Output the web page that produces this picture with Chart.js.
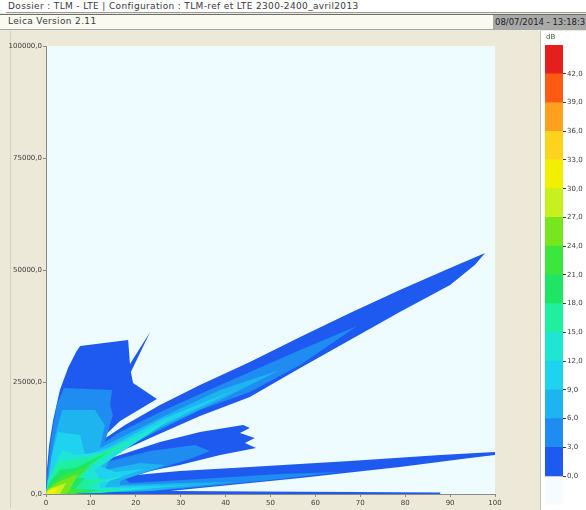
<!DOCTYPE html>
<html>
<head>
<meta charset="utf-8">
<script src="https://cdn.jsdelivr.net/npm/chart.js@4.4.1/dist/chart.umd.min.js"></script>
<style>
  html, body { margin: 0; padding: 0; }
  body { width: 586px; height: 510px; position: relative; overflow: hidden; background: #ece9d8; font-family: "DejaVu Sans", Verdana, sans-serif; }
  #row1 { position: absolute; left: 0; top: 0; width: 586px; height: 13px; background: #ffffff; }
  #row1 .txt { position: absolute; left: 8px; top: 1px; font-size: 9px; letter-spacing: 0.35px; color: #3a3a3a; white-space: nowrap; }
  #row1 .rule { position: absolute; left: 6px; right: 0; top: 12px; height: 1px; background: #9a9a9a; }
  #row2 { position: absolute; left: 0; top: 14px; width: 586px; height: 14px; background: #fbfaf0; border-top: 1px solid #6e6e6e; border-bottom: 1px solid #a8a8a8; }
  #row2 .txt { position: absolute; left: 8px; top: 1px; font-size: 9px; letter-spacing: 0.35px; color: #3a3a3a; white-space: nowrap; }
  #row2 .date { position: absolute; left: 493px; top: 0; width: 93px; height: 14px; background: #a9a9a9; overflow: hidden; }
  #row2 .date span { position: absolute; left: 2px; top: 2px; font-size: 8.5px; color: #1e1e1e; white-space: nowrap; }
  #leftRule { position: absolute; left: 10px; top: 31px; width: 1px; height: 477px; background: #d5d1bd; }
  #scalePanel { position: absolute; left: 540px; top: 31px; width: 46px; height: 479px; background: #ffffff; border-left: 1px solid #c4c1b0; box-sizing: border-box; }
  #unit { position: absolute; left: 546px; top: 33px; font-size: 7px; color: #3d5a3d; }
  #plot { position: absolute; left: 0; top: 30px; }
  #scale { position: absolute; left: 540px; top: 30px; }
</style>
</head>
<body>
<div id="row1"><span class="txt">Dossier : TLM - LTE | Configuration : TLM-ref et LTE 2300-2400_avril2013</span><div class="rule"></div></div>
<div id="row2"><span class="txt">Leica Version 2.11</span><div class="date"><span>08/07/2014 - 13:18:3</span></div></div>
<div id="leftRule"></div>
<div id="scalePanel"></div>
<canvas id="plot" width="540" height="480"></canvas>
<canvas id="scale" width="46" height="480"></canvas>
<div id="unit">dB</div>
<script>
// Field strength contours (dB), distance on x, height on y.
// Each band is the closed outline of the area at or above that level.
const contourLevels = [0, 3, 6, 9, 12, 15, 18, 21, 24, 27, 30];
const levelColors = ['#1e5af0', '#1e8cf0', '#1eb4f0', '#1ed2f0', '#1ee6d2', '#1ef0a0',
                     '#1ee664', '#3ce63c', '#78e61e', '#c8f01e', '#f0f000'];

const band0 = [[0,0],[87.8,0],[87.8,330],[27.6,670],[34.3,1340],[56.6,3570],[78.8,6030],[94.4,8040],
  [100,8700],[100,9370],[87.8,8700],[67.7,7370],[45.4,6030],[29.8,5130],[17.6,4020],
  [29.8,6470],[38.8,8700],[46.8,10270],[44.3,11380],[46.5,12500],[43.2,13620],[45.4,14730],[43.9,15400],
  [34.3,13840],[25.4,11610],[16.5,8700],[10.9,6920],
  [23.2,12500],[34.3,17410],[45.4,21650],[56.6,28120],[67.7,34370],[78.8,40620],[90.0,46650],[95.5,51110],[97.8,53790],
  [90.0,50440],[78.8,45530],[67.7,40400],[56.6,35040],[45.4,29460],[34.3,24330],[25.4,19860],[17.6,15400],[10.9,10940],
  [16.5,16290],[24.7,21200],[19.4,24780],[18.9,27230],[23.2,36160],[18.7,29020],[18.3,34370],
  [7.6,33030],[6.7,31690],[4.9,28120],[3.1,23210],[1.6,16520],[0.7,10940],[0.2,5360]];
const band3 = [[0,0],[23.2,670],[34.3,1560],[52.1,3350],[65.5,4910],[52.1,4460],[34.3,3350],[18.7,2460],
  [17.6,3350],[32.1,7810],[36.5,9600],[33.2,10940],[23.2,9600],[14.3,7370],
  [15.4,9370],[25.4,14280],[34.3,18750],[45.4,22770],[56.6,28790],[69.3,37500],[56.6,32140],[45.4,27230],
  [34.3,22320],[25.4,18300],[16.5,13840],[13.1,11610],
  [14.9,17630],[14.3,19860],[14.7,23210],[4.0,23660],[2.4,19860],[1.1,12050],[0.4,5360]];
const band6 = [[0,0],[23.2,670],[42.1,2680],[29.8,2460],[16.5,2010],[16.5,2900],[26.5,6470],[20.9,6920],
  [13.1,5360],[14.3,8040],[25.4,14730],[38.8,20980],[52.1,27680],[38.8,23210],[25.4,16960],[14.7,11610],
  [12.0,10270],[13.1,15400],[10.9,18750],[3.6,18750],[1.8,12050],[0.7,5360]];
const band9 = [[0,0],[17.6,670],[32.1,2010],[20.9,1790],[13.1,1560],[14.3,3120],[22.0,5580],[15.4,4910],
  [12.0,6250],[25.4,15180],[42.1,23210],[25.4,16520],[14.3,10490],[8.7,8700],[7.6,13170],[2.7,13840],
  [1.3,8700],[0.7,4020]];
const band12 = [[0,0],[14.3,450],[23.2,1340],[12.0,1340],[12.0,2230],[17.6,4020],[12.0,3120],[10.9,5360],
  [28.7,17410],[13.1,9370],[6.5,8700],[3.6,9820],[1.8,5800],[0.4,3120]];
const band15 = [[0,0],[12.0,220],[17.6,890],[8.7,1120],[13.1,3350],[8.0,3120],[9.4,5800],[18.7,12050],
  [9.8,8040],[5.3,7590],[2.7,7140],[0.9,3570]];
const band18 = [[0,0],[8.7,220],[12.0,890],[6.5,1120],[8.7,3570],[5.3,3570],[14.3,9600],[6.5,5800],
  [3.1,5360],[0.9,2680]];
const band21 = [[0,0],[6.5,0],[8.7,890],[4.2,1340],[10.2,6470],[3.6,4020],[0.9,1790]];
const band24 = [[0,0],[4.5,0],[5.3,890],[7.1,4460],[2.7,2680],[0.4,1120]];
const band27 = [[0,0],[3.1,0],[4.5,2460],[1.3,1340],[0.2,670]];
const band30 = [[0,0],[2.0,0],[2.7,1560],[0.4,670]];
const contours = [band0, band3, band6, band9, band12, band15, band18, band21, band24, band27, band30];

const xTicks = [0, 10, 20, 30, 40, 50, 60, 70, 80, 90, 100];
const yTicks = [0, 25000, 50000, 75000, 100000];

// Colour scale, bottom (< 0 dB) to top (> 42 dB)
const scaleTicks = [0, 3, 6, 9, 12, 15, 18, 21, 24, 27, 30, 33, 36, 39, 42];
const scaleColors = ['#f5fbff', '#1e5af0', '#1e8cf0', '#1eb4f0', '#1ed2f0', '#1ee6d2', '#1ef0a0', '#1ee664',
                     '#3ce63c', '#78e61e', '#c8f01e', '#f0f000', '#ffd21e', '#ffa01e', '#ff5a14', '#e61e1e'];

const labelFont = { family: '"DejaVu Sans", Verdana, sans-serif', size: 7 };
const decimal = v => Number(v).toFixed(1).replace('.', ',');

const plotBackground = {
  id: 'plotBackground',
  beforeDraw(chart) {
    const { ctx, chartArea: a } = chart;
    ctx.save();
    ctx.fillStyle = '#eefcff';
    ctx.fillRect(a.left, a.top, a.right - a.left, a.bottom - a.top);
    ctx.restore();
  }
};

// Each outline is closed through the origin; the trailing run along the
// axis keeps the fill's horizontal extent over the whole plot.
const contourSets = contours.map((poly, i) => ({
  label: contourLevels[i] + ' dB',
  data: poly.concat([[0, 0], [100, 0]]).map(([x, y]) => ({ x, y })),
  showLine: true,
  fill: 'shape',
  backgroundColor: levelColors[i],
  borderColor: levelColors[i],
  borderWidth: 0,
  pointRadius: 0,
  pointHoverRadius: 0,
  tension: 0,
  order: contours.length - i
}));

new Chart(document.getElementById('plot'), {
  type: 'scatter',
  data: { datasets: contourSets },
  options: {
    responsive: false,
    animation: false,
    events: [],
    layout: { padding: { left: 0, top: 16, right: 45, bottom: 0 } },
    plugins: { legend: { display: false }, tooltip: { enabled: false } },
    scales: {
      x: {
        type: 'linear', min: 0, max: 100,
        afterFit(s) { s.height = 16; },
        afterBuildTicks(s) { s.ticks = xTicks.map(v => ({ value: v })); },
        ticks: { font: labelFont, color: '#3c3c3c', padding: 2, maxRotation: 0, callback: v => String(v) },
        grid: { drawOnChartArea: false, tickLength: 3, color: '#8a8a8a' },
        border: { color: '#8a8a8a' }
      },
      y: {
        type: 'linear', min: 0, max: 100000,
        afterFit(s) { s.width = 46; },
        afterBuildTicks(s) { s.ticks = yTicks.map(v => ({ value: v })); },
        ticks: { font: labelFont, color: '#3c3c3c', padding: 1, callback: decimal },
        grid: { drawOnChartArea: false, tickLength: 3, color: '#8a8a8a' },
        border: { color: '#8a8a8a' }
      }
    }
  },
  plugins: [plotBackground]
});

new Chart(document.getElementById('scale'), {
  type: 'bar',
  data: {
    labels: ['dB'],
    datasets: scaleColors.map((c, i) => ({
      data: [[-3 + 3 * i, 3 * i]],
      backgroundColor: c,
      borderWidth: 0,
      grouped: false,
      barPercentage: 1,
      categoryPercentage: 1
    }))
  },
  options: {
    responsive: false,
    animation: false,
    events: [],
    layout: { padding: { left: 5, top: 15, right: 0, bottom: 3 } },
    plugins: { legend: { display: false }, tooltip: { enabled: false } },
    scales: {
      x: { display: false },
      y: {
        position: 'right', min: -3, max: 45, z: 1,
        afterFit(s) { s.width = 23; },
        afterBuildTicks(s) { s.ticks = scaleTicks.map(v => ({ value: v })); },
        ticks: { font: { family: labelFont.family, size: 7 }, color: '#3c3c3c', padding: 1, callback: decimal },
        grid: { color: '#3c3c2a', tickLength: 3 },
        border: { display: false }
      }
    }
  }
});
</script>
</body>
</html>
